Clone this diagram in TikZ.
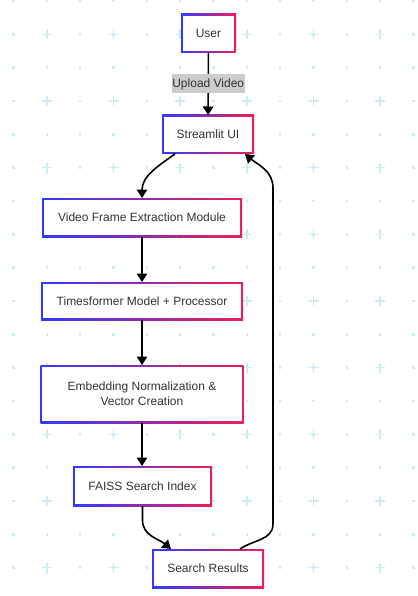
\documentclass[tikz,border=0pt]{standalone}
\usepackage{fontspec}
\setmainfont{Liberation Sans}
\usetikzlibrary{arrows.meta}
\definecolor{gridc}{HTML}{CDEBF2}
\definecolor{bblue}{HTML}{2F3BFF}
\definecolor{bred}{HTML}{F01D58}
\definecolor{txt}{HTML}{333333}
\definecolor{lblbg}{HTML}{CCCCCC}
\tikzset{
  flowbox/.style={inner sep=0pt, outer sep=0pt, fill=white,
    font=\fontsize{12}{15}\selectfont, text=txt, align=center,
    path picture={
      \shade[left color=bblue, right color=bred]
        (path picture bounding box.south west) rectangle (path picture bounding box.north east);
      \fill[white]
        ([shift={(1.8pt,1.8pt)}]path picture bounding box.south west) rectangle
        ([shift={(-1.8pt,-1.8pt)}]path picture bounding box.north east);
    }},
  conn/.style={draw=black, line width=1.6pt, -{Triangle[length=8.5pt,width=10.5pt]}},
  lbl/.style={fill=lblbg, text=txt, font=\fontsize{12}{14}\selectfont,
    inner xsep=0.5pt, inner ysep=0pt, minimum height=19pt},
  griddot/.style={fill=gridc},
  gridcross/.style={draw=gridc, line width=1.5pt}
}
\begin{document}
\begin{tikzpicture}[x=1pt,y=-1pt]
\useasboundingbox (0,0) rectangle (417,596);
\fill[white] (0,0) rectangle (417,596);
% background grid
\foreach \i in {0,...,12}{
  \foreach \j in {0,...,17}{
    \fill[griddot] (13.5+33.333*\i-1.3, 1+33.333*\j-1.3) rectangle ++(2.6,2.6);
  }
}
\foreach \i in {1,3,...,11}{
  \foreach \j in {1,3,...,17}{
    \draw[gridcross] (13.5+33.333*\i-5, 1+33.333*\j) -- ++(10,0);
    \draw[gridcross] (13.5+33.333*\i, 1+33.333*\j-5) -- ++(0,10);
  }
}
% nodes
\node[flowbox, minimum width=55pt, minimum height=39pt] (user) at (208.5,33.5) {User};
\node[flowbox, minimum width=92pt, minimum height=39pt] (ui) at (208,134.5) {Streamlit UI};
\node[flowbox, minimum width=200pt, minimum height=39pt] (vfe) at (142,217.5) {Video Frame Extraction Module};
\node[flowbox, minimum width=202pt, minimum height=38pt] (tsf) at (142,301) {Timesformer Model + Processor};
\node[flowbox, minimum width=203pt, minimum height=58pt] (emb) at (142,394) {Embedding Normalization \&\\Vector Creation};
\node[flowbox, minimum width=139pt, minimum height=40pt] (faiss) at (142.5,486) {FAISS Search Index};
\node[flowbox, minimum width=112pt, minimum height=39pt] (res) at (208,568.5) {Search Results};
% helper coordinates
\coordinate (uiout) at ([xshift=-33pt]ui.south);
\coordinate (uiin) at ([xshift=37pt]ui.south);
\coordinate (resin) at ([xshift=-37pt]res.north);
\coordinate (resout) at ([xshift=32pt]res.north);
\coordinate (fbend) at ([yshift=-14pt]faiss.south);
\coordinate (rbend) at (273,524);
\coordinate (rtop) at (273,188);
% connectors
\draw[conn] (user) -- node[lbl]{Upload Video} (ui);
\draw[conn] (uiout) to[out=-145,in=90] (vfe.north);
\draw[conn] (vfe.south) -- (tsf.north);
\draw[conn] (tsf.south) -- (emb.north);
\draw[conn] (emb.south) -- (emb.south |- faiss.north);
\draw[conn] (faiss.south) -- (fbend) to[out=-90,in=140] (resin);
\draw[conn] (resout) to[out=35,in=-90] (rbend) -- (rtop) to[out=90,in=-40] (uiin);
\end{tikzpicture}
\end{document}
